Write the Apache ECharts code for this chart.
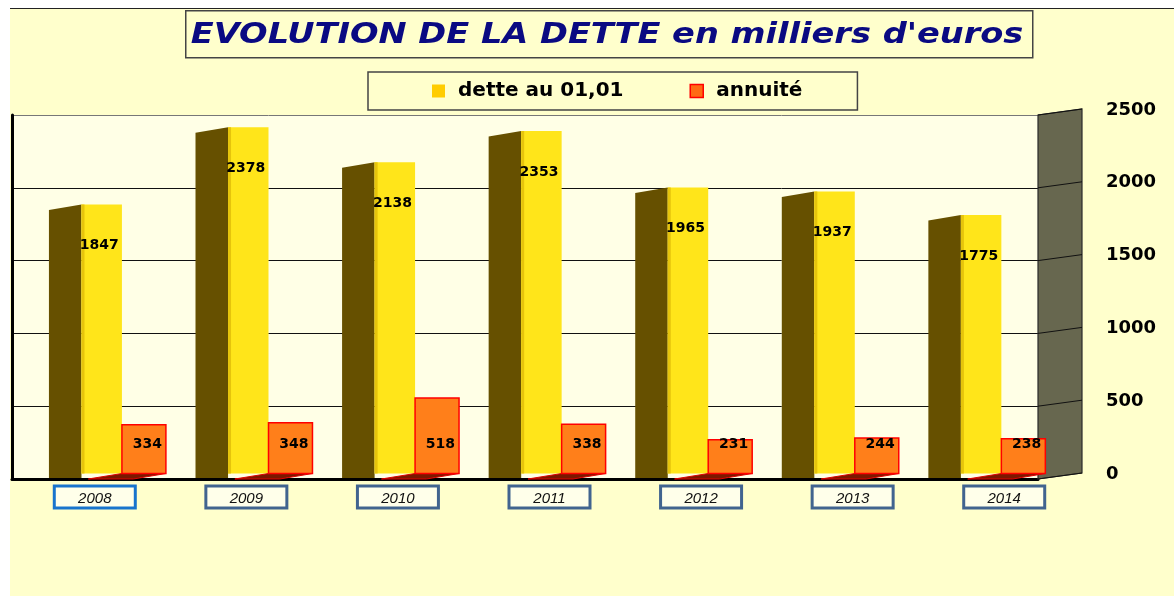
<!DOCTYPE html>
<html>
<head>
<meta charset="utf-8">
<script src="https://cdn.jsdelivr.net/npm/echarts@6/dist/echarts.min.js"></script>
<style>
  html, body { margin: 0; padding: 0; background: #ffffff; }
  #chart { position: absolute; left: 10px; top: 9px; width: 1164px; height: 587px; box-shadow: 0 -1px 0 #222; }
</style>
</head>
<body>
<div id="chart"></div>
<script>
// data
const years = ['2008', '2009', '2010', '2011', '2012', '2013', '2014'];
const dette = [1847, 2378, 2138, 2353, 1965, 1937, 1775];
const annuite = [334, 348, 518, 338, 231, 244, 238];
const yTicks = [0, 500, 1000, 1500, 2000, 2500];

document.addEventListener('DOMContentLoaded', function() {
    const chart = echarts.init(document.getElementById('chart'));
    const depth = 5.5;

    // dark side face + yellow front face
    function renderDette(params, api) {
        const i = api.value(0), v = api.value(1);
        const top = api.coord([i, v]);
        const base = api.coord([i, 0]);
        const bw = api.size([1, 0])[0];
        const c = top[0];
        const x0 = c - 0.248 * bw, x1 = c - 0.026 * bw, x2 = c + 0.25 * bw;
        return {
            type: 'group',
            children: [
                { type: 'polygon', shape: { points: [[x0, top[1]], [x1, top[1] - depth], [x1, base[1] - 1], [x0, base[1] - 1]] },
                  style: { fill: '#665000' } },
                { type: 'rect', shape: { x: x1, y: top[1] - depth, width: x2 - x1, height: base[1] - top[1] },
                  style: { fill: '#FFE51A' } },
                { type: 'rect', shape: { x: x1, y: top[1] - depth, width: 3, height: base[1] - top[1] },
                  style: { fill: '#E6C40C' } },
                { type: 'text', style: { text: String(v), x: c + 14, y: top[1] - depth + 41,
                  font: 'bold 14px "DejaVu Sans"', fill: '#000', align: 'center', verticalAlign: 'middle' } }
            ]
        };
    }

    // orange front face + floor shadow
    function renderAnnuite(params, api) {
        const i = api.value(0), v = api.value(1);
        const top = api.coord([i, v]);
        const base = api.coord([i, 0]);
        const bw = api.size([1, 0])[0];
        const c = top[0];
        const x2 = c + 0.25 * bw, x3 = c + 0.55 * bw;
        return {
            type: 'group',
            children: [
                { type: 'polygon', shape: { points: [[c + 3, base[1]], [x2, base[1] - depth], [x3, base[1] - depth], [c + 48, base[1]]] },
                  style: { fill: '#7A1800', stroke: '#E00000', lineWidth: 1 } },
                { type: 'rect', shape: { x: x2, y: top[1] - depth, width: x3 - x2, height: base[1] - top[1] },
                  style: { fill: '#FF7F1A', stroke: '#FF0000', lineWidth: 1.5 } },
                { type: 'text', style: { text: String(v), x: c + 62, y: base[1] - 35,
                  font: 'bold 14px "DejaVu Sans"', fill: '#000', align: 'center', verticalAlign: 'middle' } }
            ]
        };
    }

    // slanted side wall on the right, with its grid lines
    function renderWall(params, api) {
        const t = api.value(1);
        const bw = api.size([1, 0])[0];
        const p = api.coord([years.length - 1, t]);
        const xr = p[0] + bw / 2;
        const children = [];
        if (params.dataIndex === 0) {
            const b = api.coord([years.length - 1, yTicks[0]]);
            const tp = api.coord([years.length - 1, yTicks[yTicks.length - 1]]);
            children.push({ type: 'polygon',
                shape: { points: [[xr, b[1]], [xr + 44, b[1] - 6], [xr + 44, tp[1] - 6], [xr, tp[1]]] },
                style: { fill: '#67674F', stroke: '#2a2a2a', lineWidth: 1.2 } });
        }
        children.push({ type: 'line', shape: { x1: xr, y1: p[1], x2: xr + 44, y2: p[1] - 6 },
            style: { stroke: '#111', lineWidth: 1 } });
        return { type: 'group', children: children };
    }

    const option = {
        animation: false,
        backgroundColor: '#FFFFCC',
        // title box: text is drawn a little stretched, like the original
        graphic: [{
            type: 'group', left: 175, top: 1,
            children: [
                { type: 'rect', shape: { x: 0, y: 0, width: 847, height: 47 },
                  style: { fill: '#FFFFCC', stroke: '#444', lineWidth: 1.5 } },
                { type: 'text', x: 5, y: 25, scaleX: 1.2,
                  style: { text: "EVOLUTION DE LA DETTE en milliers d'euros", x: 0, y: 0,
                           font: 'italic bold 28px "DejaVu Sans"', fill: '#0A0A82', verticalAlign: 'middle' } }
            ]
        }],
        legend: {
            left: 358, top: 63,
            selectedMode: false,
            backgroundColor: '#FFFFCC',
            borderColor: '#444', borderWidth: 1.5,
            padding: [9, 55, 9, 64],
            itemWidth: 13, itemHeight: 13, itemGap: 66,
            textStyle: { fontFamily: 'DejaVu Sans', fontWeight: 'bold', fontSize: 20, color: '#000', padding: [0, 0, 0, 8] },
            data: [
                { name: 'dette au 01,01', icon: 'rect', itemStyle: { color: '#FFCC00' } },
                { name: 'annuité', icon: 'rect', itemStyle: { color: '#FF6A13', borderColor: '#FF0000', borderWidth: 1.5 } }
            ]
        },
        grid: [
            { left: 2, right: 136, top: 106, bottom: 117, show: true, backgroundColor: '#FFFFE6', borderWidth: 0 },
            { left: 9, right: 94, top: 106, bottom: 117 }
        ],
        xAxis: [
            { type: 'category', gridIndex: 0, data: years,
              axisLine: { lineStyle: { color: '#000', width: 3 } },
              axisTick: { show: false }, axisLabel: { show: false } },
            { type: 'category', gridIndex: 1, data: years,
              axisLine: { show: false }, axisTick: { show: false },
              axisLabel: {
                  margin: 11,
                  formatter: function(v, idx) { return (idx === 0 ? '{a|' : '{b|') + v + '}'; },
                  rich: {
                      a: { fontFamily: 'Liberation Sans', fontStyle: 'italic', fontSize: 15, color: '#111', lineHeight: 14,
                           backgroundColor: '#FFFFEA', borderColor: '#1874CD', borderWidth: 3, width: 78, align: 'center', padding: [4, 0, 0, 0] },
                      b: { fontFamily: 'Liberation Sans', fontStyle: 'italic', fontSize: 15, color: '#111', lineHeight: 14,
                           backgroundColor: '#FFFFEA', borderColor: '#41648F', borderWidth: 3, width: 78, align: 'center', padding: [4, 0, 0, 0] }
                  }
              } }
        ],
        yAxis: [
            { type: 'value', gridIndex: 0, min: 0, max: 2500, interval: 500, position: 'right',
              axisLine: { show: false }, axisTick: { show: false },
              axisLabel: { margin: 68, fontFamily: 'DejaVu Sans', fontWeight: 'bold', fontSize: 18, color: '#000',
                           verticalAlign: 'bottom', lineHeight: 10, formatter: function(v) { return String(v); } },
              splitLine: { lineStyle: { color: ['#111', '#111', '#111', '#111', '#111', '#777'], width: 1 } } },
            { type: 'value', gridIndex: 0, min: 0, max: 2500, interval: 500, position: 'left',
              axisLine: { show: true, lineStyle: { color: '#000', width: 3 } },
              axisTick: { show: false }, axisLabel: { show: false }, splitLine: { show: false } },
            { type: 'value', gridIndex: 1, min: 0, max: 2500, show: false, splitLine: { show: false } }
        ],
        series: [
            { name: 'wall', type: 'custom', xAxisIndex: 0, yAxisIndex: 0, z: 1,
              renderItem: renderWall, data: yTicks.map(t => [years.length - 1, t]) },
            { name: 'dette au 01,01', type: 'custom', xAxisIndex: 0, yAxisIndex: 0, z: 2,
              itemStyle: { color: '#FFCC00' },
              renderItem: renderDette, encode: { x: 0, y: 1 },
              data: dette.map((v, i) => [i, v]) },
            { name: 'annuité', type: 'custom', xAxisIndex: 0, yAxisIndex: 0, z: 3,
              itemStyle: { color: '#FF6A13' },
              renderItem: renderAnnuite, encode: { x: 0, y: 1 },
              data: annuite.map((v, i) => [i, v]) }
        ]
    };
    chart.setOption(option);
});
</script>
</body>
</html>
